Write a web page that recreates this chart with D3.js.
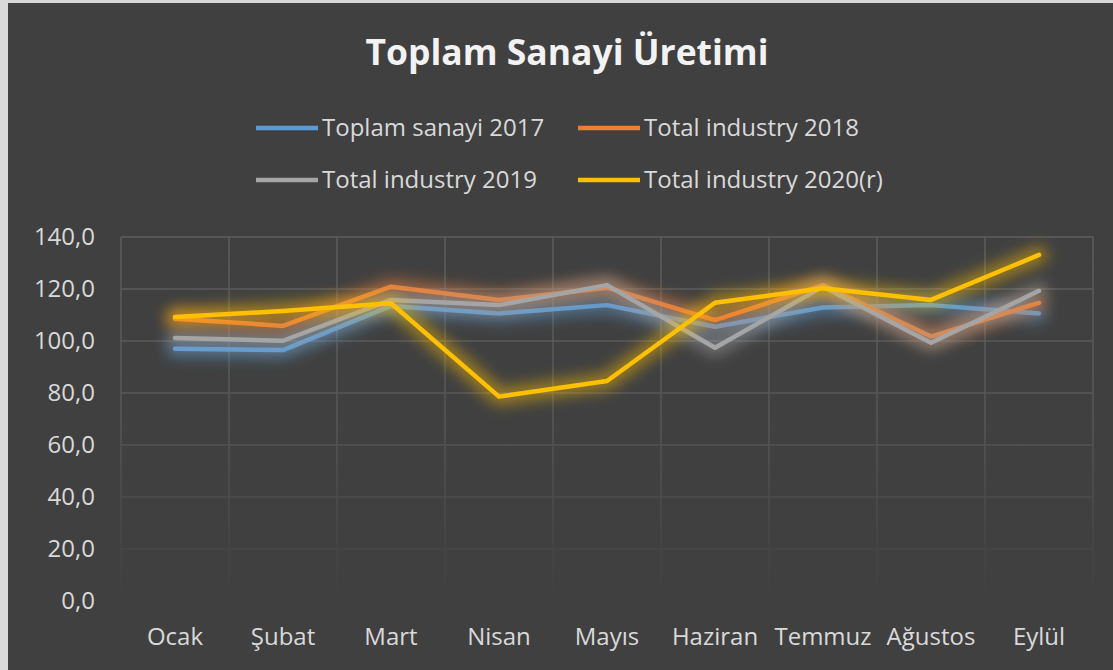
<!DOCTYPE html>
<html>
<head>
<meta charset="utf-8">
<script src="https://cdn.jsdelivr.net/npm/d3@7"></script>
<style>
    body { margin: 0; background: #d9d9d9; }
    svg { display: block; }
    text { font-family: "Open Sans", sans-serif; }
</style>
</head>
<body>
<div id="chart"></div>
<script>
const width = 1113;
const height = 670;
const margin = {top: 237, right: 20, bottom: 69, left: 121};

const months = ["Ocak", "Şubat", "Mart", "Nisan", "Mayıs", "Haziran", "Temmuz", "Ağustos", "Eylül"];
const seriesNames = ["Toplam sanayi 2017", "Total industry 2018", "Total industry 2019", "Total industry 2020(r)"];
const seriesColors = ["#5b9bd5", "#ed7d31", "#a5a5a5", "#ffc000"];
const values2017 = [97.0, 96.5, 113.5, 110.6, 113.8, 105.5, 112.9, 113.8, 110.6];
const values2018 = [108.6, 105.8, 120.9, 115.8, 120.5, 108.0, 121.5, 101.7, 114.7];
const values2019 = [101.2, 100.1, 115.8, 113.8, 121.5, 97.4, 120.9, 99.3, 119.3];
const values2020 = [109.2, 111.5, 114.5, 78.6, 84.6, 114.7, 120.3, 115.8, 133.1];
const yTicks = [0, 20, 40, 60, 80, 100, 120, 140];

const allSeries = [values2017, values2018, values2019, values2020];

const svg = d3.select("#chart").append("svg")
    .attr("width", width)
    .attr("height", height);

// light frame on the left / top, dark chart area
svg.append("rect")
    .attr("x", 8).attr("y", 3)
    .attr("width", width - 8).attr("height", height - 3)
    .attr("fill", "#404040");

const defs = svg.append("defs");

const blur = defs.append("filter")
    .attr("id", "blur")
    .attr("x", "-20%").attr("y", "-80%")
    .attr("width", "140%").attr("height", "260%");
blur.append("feGaussianBlur")
    .attr("in", "SourceGraphic")
    .attr("stdDeviation", 7);

// grid fades out toward the bottom
const fade = defs.append("linearGradient")
    .attr("id", "fade")
    .attr("gradientUnits", "userSpaceOnUse")
    .attr("x1", 0).attr("y1", margin.top)
    .attr("x2", 0).attr("y2", height - margin.bottom);
fade.append("stop").attr("offset", 0).attr("stop-color", "#fff").attr("stop-opacity", 1);
fade.append("stop").attr("offset", 0.5).attr("stop-color", "#fff").attr("stop-opacity", 0.8);
fade.append("stop").attr("offset", 0.75).attr("stop-color", "#fff").attr("stop-opacity", 0.35);
fade.append("stop").attr("offset", 1).attr("stop-color", "#fff").attr("stop-opacity", 0.02);
defs.append("mask")
    .attr("id", "gridMask")
    .attr("maskUnits", "userSpaceOnUse")
    .attr("x", 0).attr("y", 0).attr("width", width).attr("height", height)
    .append("rect")
    .attr("x", 0).attr("y", margin.top - 5)
    .attr("width", width).attr("height", height - margin.bottom - margin.top + 10)
    .attr("fill", "url(#fade)");

const x = d3.scaleBand()
    .domain(months)
    .range([margin.left, 1093])
    .padding(0);

const y = d3.scaleLinear()
    .domain([0, 140])
    .range([height - margin.bottom, margin.top]);

const fmt = d => d3.format(".1f")(d).replace(".", ",");

// gridlines
const grid = svg.append("g").attr("mask", "url(#gridMask)");
grid.selectAll(".hgrid")
    .data(yTicks)
    .enter()
    .append("line")
    .attr("x1", margin.left).attr("x2", 1093)
    .attr("y1", d => y(d)).attr("y2", d => y(d))
    .attr("stroke", "#5e5e5e")
    .attr("stroke-width", 1.5);
grid.selectAll(".vgrid")
    .data(months.concat(["end"]))
    .enter()
    .append("line")
    .attr("x1", (d, i) => margin.left + i * x.bandwidth())
    .attr("x2", (d, i) => margin.left + i * x.bandwidth())
    .attr("y1", y(140)).attr("y2", y(0))
    .attr("stroke", "#5e5e5e")
    .attr("stroke-width", 1.5);

// axes
const yAxis = svg.append("g")
    .attr("transform", "translate(" + 95 + ",0)")
    .call(d3.axisLeft(y).tickValues(yTicks).tickFormat(fmt).tickSize(0).tickPadding(0));
yAxis.select(".domain").remove();
yAxis.selectAll("text")
    .attr("fill", "#d9d9d9")
    .style("font-size", "24px")
    .style("font-family", "'Open Sans', sans-serif");

const xAxis = svg.append("g")
    .attr("transform", "translate(0," + 637 + ")")
    .call(d3.axisBottom(x).tickSize(0).tickPadding(0));
xAxis.select(".domain").remove();
xAxis.selectAll("text")
    .attr("fill", "#d9d9d9")
    .attr("dy", "0.35em")
    .style("font-size", "24px")
    .style("font-family", "'Open Sans', sans-serif");

// lines, each with a soft glow of its own colour underneath
const line = d3.line()
    .x((d, i) => x(months[i]) + x.bandwidth() / 2)
    .y(d => y(d));

const series = svg.append("g")
    .selectAll("g")
    .data(allSeries)
    .enter()
    .append("g");
series.append("path")
    .attr("d", line)
    .attr("fill", "none")
    .attr("stroke", (d, i) => seriesColors[i])
    .attr("stroke-width", 18)
    .attr("stroke-opacity", 0.45)
    .attr("stroke-linejoin", "round")
    .attr("stroke-linecap", "round")
    .attr("filter", "url(#blur)");
series.append("path")
    .attr("d", line)
    .attr("fill", "none")
    .attr("stroke", (d, i) => seriesColors[i])
    .attr("stroke-width", 4.5)
    .attr("stroke-linejoin", "round")
    .attr("stroke-linecap", "round");

// title
svg.append("text")
    .attr("x", 567)
    .attr("y", 65)
    .attr("text-anchor", "middle")
    .attr("fill", "#f2f2f2")
    .style("font-size", "35px")
    .style("font-weight", "bold")
    .attr("textLength", 403)
    .attr("lengthAdjust", "spacingAndGlyphs")
    .text("Toplam Sanayi Üretimi");

// legend
const legendPos = [[256, 128], [578, 128], [256, 180], [578, 180]];
const legend = svg.append("g")
    .selectAll("g")
    .data(seriesNames)
    .enter()
    .append("g")
    .attr("transform", (d, i) => "translate(" + legendPos[i][0] + "," + legendPos[i][1] + ")");
legend.append("line")
    .attr("x1", 0).attr("x2", 62)
    .attr("y1", 0).attr("y2", 0)
    .attr("stroke", (d, i) => seriesColors[i])
    .attr("stroke-width", 4.5);
legend.append("text")
    .attr("x", 66)
    .attr("y", 0)
    .attr("dy", "0.35em")
    .attr("fill", "#d9d9d9")
    .style("font-size", "24px")
    .text(d => d);
</script>
</body>
</html>
